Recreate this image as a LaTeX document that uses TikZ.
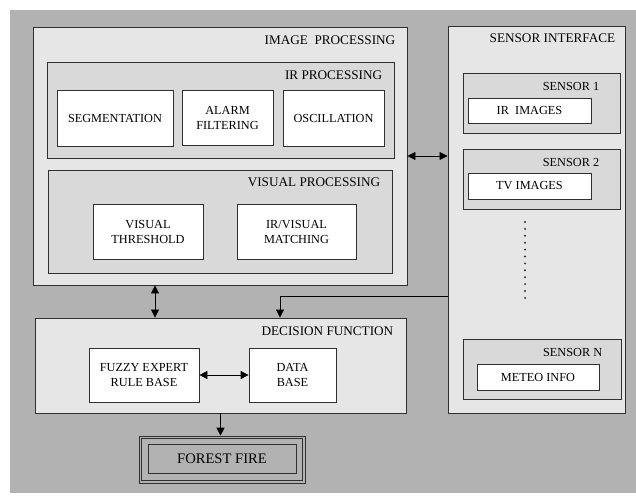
\documentclass[tikz,border=0pt]{standalone}
\usepackage{fontspec}
\setmainfont{Liberation Serif}
\usepackage{xcolor}
\usepackage{tikz}
\usetikzlibrary{arrows.meta}

\definecolor{bggray}{HTML}{B2B2B2}
\definecolor{outergray}{HTML}{E6E6E6}
\definecolor{innergray}{HTML}{D9D9D9}
\definecolor{edgegray}{HTML}{303030}

\begin{document}
\begin{tikzpicture}[x=1pt,y=-1pt, every node/.style={font=\fontsize{12.3}{15}\selectfont},
  outer/.style={draw=edgegray,line width=0.9pt,fill=outergray,inner sep=0pt},
  inner/.style={draw=edgegray,line width=0.8pt,fill=innergray,inner sep=0pt},
  box/.style={draw=edgegray,line width=0.8pt,fill=white,align=center,inner sep=0pt},
  frame/.style={draw=edgegray,line width=0.7pt,inner sep=0pt},
  title/.style={anchor=east,inner sep=0pt,font=\fontsize{13.2}{15}\selectfont},
  subtitle/.style={anchor=east,inner sep=0pt},
  arr/.style={-{Triangle[length=8pt,width=8pt]},line width=0.8pt},
  dbl/.style={{Triangle[length=8pt,width=8pt]}-{Triangle[length=8pt,width=8pt]},line width=0.8pt}]
  \useasboundingbox (0,0) rectangle (636,495);
  \fill[bggray] (10,10) rectangle (636,493);
  % image processing
  \node[outer,minimum width=374pt,minimum height=258pt] (imgproc) at (220,156) {};
  \node[title] at ([xshift=-12pt,yshift=-14pt]imgproc.north east) {IMAGE\ \ PROCESSING};
  \node[inner,minimum width=347pt,minimum height=96pt] (irproc) at (220.5,110) {};
  \node[title] at ([xshift=-12pt,yshift=-14pt]irproc.north east) {IR PROCESSING};
  \node[box,minimum width=116pt,minimum height=56pt] (seg) at (115,118) {SEGMENTATION};
  \node[box,minimum width=91pt,minimum height=55pt] (alarm) at (227.5,117.5) {ALARM\\FILTERING};
  \node[box,minimum width=101pt,minimum height=56pt] (osc) at (333.5,118) {OSCILLATION};
  \node[inner,minimum width=344pt,minimum height=103pt] (visproc) at (220,221.5) {};
  \node[title] at ([xshift=-12pt,yshift=-13pt]visproc.north east) {VISUAL PROCESSING};
  \node[box,minimum width=110pt,minimum height=55pt] (visthr) at (148,231.5) {VISUAL\\THRESHOLD};
  \node[box,minimum width=119pt,minimum height=55pt] (irvis) at (296.5,231.5) {IR/VISUAL\\MATCHING};
  % sensor interface
  \node[outer,minimum width=177pt,minimum height=387pt] (sensif) at (536.5,219.5) {};
  \node[title] at ([xshift=-10pt,yshift=-13pt]sensif.north east) {SENSOR INTERFACE};
  \node[inner,minimum width=157pt,minimum height=60pt] (sens1) at (541.5,103) {};
  \node[subtitle] at ([xshift=-21pt,yshift=-14pt]sens1.north east) {SENSOR 1};
  \node[box,minimum width=123pt,minimum height=25pt] (irimg) at (529.5,110.5) {IR\ \ IMAGES};
  \node[inner,minimum width=157pt,minimum height=60pt] (sens2) at (541.5,179) {};
  \node[subtitle] at ([xshift=-21pt,yshift=-14pt]sens2.north east) {SENSOR 2};
  \node[box,minimum width=123pt,minimum height=26pt] (tvimg) at (529.5,186) {TV\ IMAGES};
  \foreach \k in {0,...,11}
    \fill[edgegray] (525,222+\k*6.9) circle (1.1pt);
  \node[inner,minimum width=158pt,minimum height=60pt] (sensn) at (542,369) {};
  \node[subtitle] at ([xshift=-19pt,yshift=-14pt]sensn.north east) {SENSOR N};
  \node[box,minimum width=122pt,minimum height=26pt] (meteo) at (538,377) {METEO INFO};
  % decision function
  \node[outer,minimum width=371pt,minimum height=95pt] (decis) at (220.5,365.5) {};
  \node[title] at ([xshift=-13pt,yshift=-14pt]decis.north east) {DECISION FUNCTION};
  \node[box,minimum width=110pt,minimum height=54pt] (fuzzy) at (144,375) {FUZZY EXPERT\\RULE BASE};
  \node[box,minimum width=87pt,minimum height=54pt] (dbase) at (292.5,375) {DATA\\BASE};
  % output
  \node[frame,minimum width=166pt,minimum height=47pt] (fire) at (222,459.5) {};
  \node[frame,minimum width=161pt,minimum height=42pt] (firemid) at (222,459.5) {};
  \node[frame,line width=0.8pt,minimum width=148pt,minimum height=29pt,font=\fontsize{14.6}{16}\selectfont] (firein) at (222,458.5) {FOREST FIRE};
  \draw[dbl] (imgproc.east) -- (imgproc.east -| sensif.west);
  \draw[dbl] ([xshift=-65pt]imgproc.south) -- ([xshift=-65pt]imgproc.south |- decis.north);
  \draw[arr] ([yshift=-76.5pt]sensif.west) -| ([xshift=59.5pt]decis.north);
  \draw[dbl] (fuzzy) -- (dbase);
  \draw[arr] (decis.south) -- (decis.south |- fire.north);
\end{tikzpicture}
\end{document}
